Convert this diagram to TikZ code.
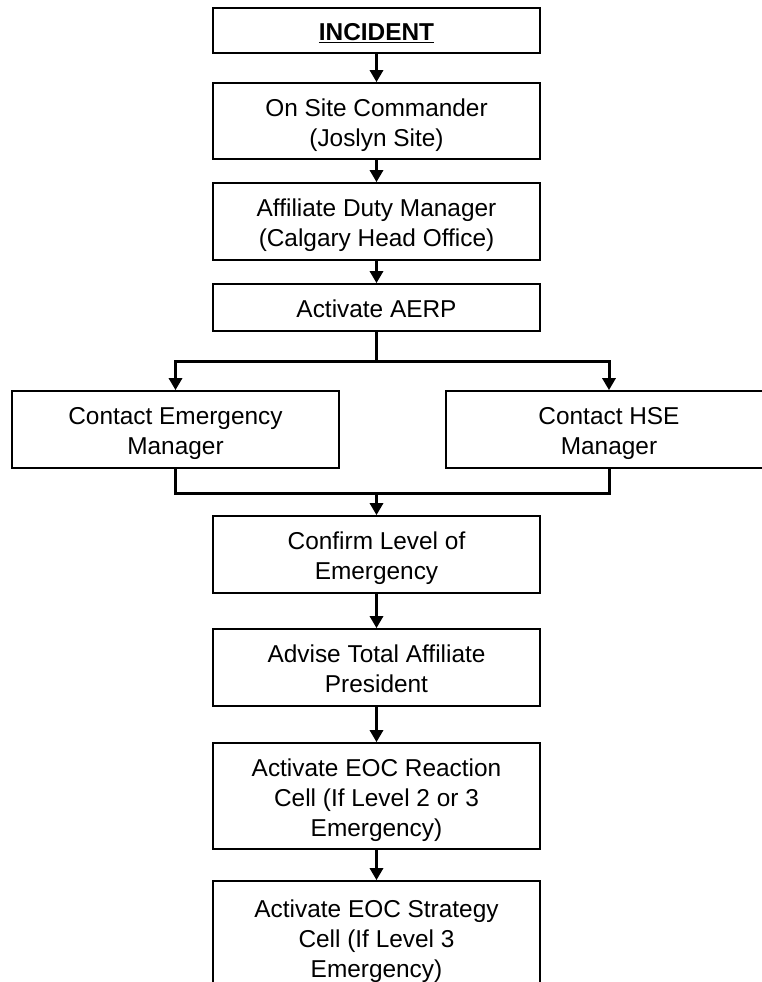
\documentclass[tikz,border=0pt]{standalone}
\usepackage{fontspec}
\setmainfont{Liberation Sans}
\usetikzlibrary{arrows.meta}
\newcommand{\boxtext}[1]{\raisebox{0pt}[\dimexpr\height+8pt\relax][\depth]{\begin{tabular}{@{}c@{}}#1\end{tabular}}}
\tikzset{
  box/.style={draw=black, line width=1.7pt, rectangle, fill=white, align=center,
    minimum width=327pt, inner sep=0pt,
    font=\fontsize{24.4pt}{30pt}\selectfont},
  conn/.style={draw=black, line width=3pt},
  arr/.style={conn, -{Triangle[width=13pt,length=12pt]}},
}
\begin{document}
\begin{tikzpicture}[x=1pt,y=-1pt]
\clip (0,0) rectangle (762,982);
\fill[white] (0,0) rectangle (762,982);
\node[box, minimum height=45pt] (incident) at (376.5,30.5) {\boxtext{\underline{\textbf{INCIDENT}}}};
\node[box, minimum height=76pt] (onsite) at (376.5,121) {\boxtext{On Site Commander\\(Joslyn Site)}};
\node[box, minimum height=77pt] (affiliate) at (376.5,221.5) {\boxtext{Affiliate Duty Manager\\(Calgary Head Office)}};
\node[box, minimum height=47pt] (aerp) at (376.5,307.5) {\boxtext{Activate AERP}};
\node[box, minimum height=77pt] (cem) at (175.5,429.5) {\boxtext{Contact Emergency\\Manager}};
\node[box, minimum height=77pt, minimum width=326pt] (hse) at (609,429.5) {\boxtext{Contact HSE\\Manager}};
\node[box, minimum height=77pt] (confirm) at (376.5,554.5) {\boxtext{Confirm Level of\\Emergency}};
\node[box, minimum height=77pt] (advise) at (376.5,667.5) {\boxtext{Advise Total Affiliate\\President}};
\node[box, minimum height=106pt] (reaction) at (376.5,796) {\boxtext{Activate EOC Reaction\\Cell (If Level 2 or 3\\Emergency)}};
\node[box, minimum height=112pt] (strategy) at (376.5,937) {\boxtext{Activate EOC Strategy\\Cell (If Level 3\\Emergency)}};
\coordinate (split) at (376.5,361);
\coordinate (join) at (376.5,493);
\draw[arr] (incident.south) -- (onsite.north);
\draw[arr] (onsite.south) -- (affiliate.north);
\draw[arr] (affiliate.south) -- (aerp.north);
\draw[conn] (aerp.south) -- (split);
\draw[arr] (split) -| (cem.north);
\draw[arr] (split) -| (hse.north);
\draw[conn] (cem.south) -- (cem.south |- join) -- (hse.south |- join) -- (hse.south);
\draw[arr] (join) -- (confirm.north);
\draw[arr] (confirm.south) -- (advise.north);
\draw[arr] (advise.south) -- (reaction.north);
\draw[arr] (reaction.south) -- (strategy.north);
\end{tikzpicture}
\end{document}
